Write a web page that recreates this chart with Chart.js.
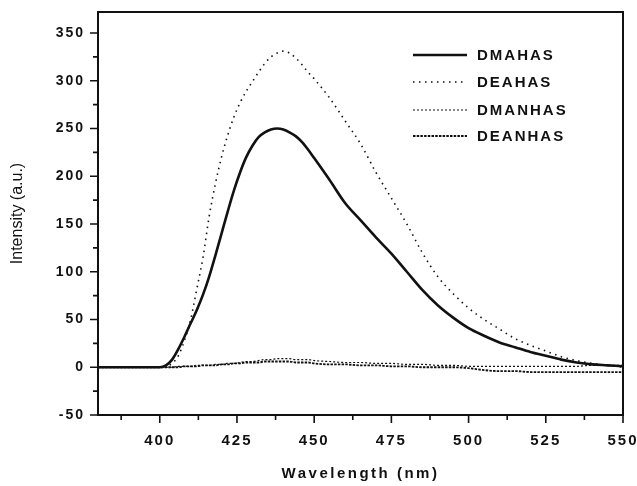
<!DOCTYPE html>
<html>
<head>
<meta charset="utf-8">
<script src="https://cdn.jsdelivr.net/npm/chart.js@4.4.0/dist/chart.umd.min.js"></script>
<style>
  html, body { margin: 0; padding: 0; background: #fff; }
  #wrap { width: 637px; height: 486px; }
</style>
</head>
<body>
<div id="wrap"><canvas id="chart"></canvas></div>
<script>
// wavelength grid (nm) shared by all four spectra
const wavelength = [380, 390, 398, 400, 402, 404, 406, 408, 410, 412, 414, 416, 418, 420, 422, 424, 426, 428, 430, 432, 434, 436, 438, 440, 442, 444, 446, 448, 450, 455, 460, 465, 470, 475, 480, 485, 490, 495, 500, 505, 510, 515, 520, 525, 530, 535, 540, 545, 550];

const dmahas  = [0, 0, 0, 0, 2, 8, 19, 32, 46, 60, 76, 95, 117, 140, 163, 185, 204, 220, 232, 241, 246, 249, 250, 249, 246, 242, 236, 228, 219, 196, 172, 154, 136, 119, 100, 81, 65, 52, 41, 33, 26, 21, 16, 12, 8, 5, 3, 2, 1];
const deahas  = [0, 0, 0, 0, 1, 4, 12, 28, 50, 82, 115, 158, 192, 220, 243, 262, 277, 289, 299, 309, 318, 325, 329, 331, 329, 324, 317, 309, 302, 282, 258, 234, 204, 177, 150, 120, 95, 77, 62, 50, 40, 30, 23, 17, 11, 7, 4, 2, 0];
const dmanhas = [0, 0, 0, 0, 0, 0, 1, 1, 1, 2, 2, 2, 3, 3, 4, 4, 5, 6, 6, 7, 8, 8, 9, 9, 9, 8, 8, 8, 7, 6, 5, 5, 4, 4, 3, 3, 2, 2, 1, 1, 1, 1, 1, 1, 1, 1, 2, 2, 2];
const deanhas = [0, 0, 0, 0, 0, 0, 0, 1, 1, 1, 2, 2, 2, 3, 3, 4, 4, 5, 5, 5, 6, 6, 6, 6, 6, 5, 5, 5, 4, 3, 3, 2, 2, 1, 1, 0, 0, 0, -1, -3, -4, -4, -5, -5, -5, -5, -5, -5, -5];

const seriesNames = ["DMAHAS", "DEAHAS", "DMANHAS", "DEANHAS"];

const xTicks = [400, 425, 450, 475, 500, 525, 550];
const xMinor = [387.5, 412.5, 437.5, 462.5, 487.5, 512.5, 537.5];
const yTicks = [-50, 0, 50, 100, 150, 200, 250, 300, 350];
const yMinor = [-25, 25, 75, 125, 175, 225, 275, 325];

const ink = "#111";
const fontFamily = "'Liberation Sans', Arial, sans-serif";

function points(values) {
    return wavelength.map((w, i) => ({ x: w, y: values[i] }));
}

const styles = [
    { width: 2.6, dash: [] },
    { width: 1.6, dash: [1.5, 4.5] },
    { width: 1.2, dash: [2, 2] },
    { width: 1.8, dash: [2.5, 1.2] }
];

const allSeries = [dmahas, deahas, dmanhas, deanhas];

// ticks, frame, titles and legend drawn by hand to match the scanned look
const decorPlugin = {
    id: "decor",
    beforeDraw(chart) {
        chart.ctx.letterSpacing = "2px";
    },
    afterDraw(chart) {
        const ctx = chart.ctx;
        const a = chart.chartArea;
        const xs = chart.scales.x;
        const ys = chart.scales.y;
        ctx.save();
        ctx.strokeStyle = ink;
        ctx.setLineDash([]);

        // frame
        ctx.lineWidth = 2;
        ctx.strokeRect(a.left, a.top, a.right - a.left, a.bottom - a.top);

        // tick marks
        ctx.lineWidth = 1.6;
        ctx.beginPath();
        xTicks.forEach(v => {
            const px = xs.getPixelForValue(v);
            ctx.moveTo(px, a.bottom); ctx.lineTo(px, a.bottom + 8);
        });
        xMinor.forEach(v => {
            const px = xs.getPixelForValue(v);
            ctx.moveTo(px, a.bottom); ctx.lineTo(px, a.bottom + 5);
        });
        yTicks.forEach(v => {
            const py = ys.getPixelForValue(v);
            ctx.moveTo(a.left - 8, py); ctx.lineTo(a.left, py);
        });
        yMinor.forEach(v => {
            const py = ys.getPixelForValue(v);
            ctx.moveTo(a.left - 5, py); ctx.lineTo(a.left, py);
        });
        ctx.stroke();

        // axis titles
        ctx.fillStyle = ink;
        ctx.letterSpacing = "2.5px";
        ctx.font = "bold 15px " + fontFamily;
        ctx.textAlign = "center";
        ctx.textBaseline = "middle";
        ctx.fillText("Wavelength (nm)", (a.left + a.right) / 2, 474);

        ctx.letterSpacing = "0px";
        ctx.font = "16px " + fontFamily;
        ctx.save();
        ctx.translate(18, (a.top + a.bottom) / 2);
        ctx.rotate(-Math.PI / 2);
        ctx.fillText("Intensity (a.u.)", 0, 0);
        ctx.restore();

        // legend
        const rows = [55, 82, 110, 136];
        ctx.font = "bold 15px " + fontFamily;
        ctx.letterSpacing = "2px";
        ctx.textAlign = "left";
        chart.data.datasets.forEach((ds, i) => {
            ctx.beginPath();
            ctx.lineWidth = ds.borderWidth;
            ctx.setLineDash(ds.borderDash);
            ctx.moveTo(413, rows[i]);
            ctx.lineTo(467, rows[i]);
            ctx.stroke();
            ctx.setLineDash([]);
            ctx.fillText(ds.label, 477, rows[i] + 1);
        });
        ctx.restore();
    }
};

new Chart(document.getElementById("chart"), {
    type: "line",
    data: {
        datasets: allSeries.map((vals, i) => ({
            label: seriesNames[i],
            data: points(vals),
            borderColor: ink,
            borderWidth: styles[i].width,
            borderDash: styles[i].dash,
            pointRadius: 0,
            cubicInterpolationMode: "monotone",
            fill: false
        }))
    },
    options: {
        responsive: true,
        maintainAspectRatio: false,
        animation: false,
        layout: { padding: { top: 12, right: 14, left: 0, bottom: 0 } },
        plugins: {
            legend: { display: false },
            tooltip: { enabled: false }
        },
        scales: {
            x: {
                type: "linear",
                min: 380,
                max: 550,
                grid: { display: false, drawTicks: false },
                border: { display: false },
                afterBuildTicks: scale => { scale.ticks = xTicks.map(v => ({ value: v })); },
                afterFit: scale => {
                    scale.height = 71;
                    scale.paddingLeft = 0;
                    scale.paddingRight = 0;
                },
                ticks: {
                    color: ink,
                    padding: 17,
                    maxRotation: 0,
                    font: { family: fontFamily, size: 15, weight: "bold" }
                }
            },
            y: {
                min: -50,
                max: 372,
                grid: { display: false, drawTicks: false },
                border: { display: false },
                afterBuildTicks: scale => { scale.ticks = yTicks.map(v => ({ value: v })); },
                afterFit: scale => {
                    scale.width = 98;
                    scale.paddingTop = 0;
                    scale.paddingBottom = 0;
                },
                ticks: {
                    color: ink,
                    padding: 13,
                    font: { family: fontFamily, size: 14, weight: "bold" }
                }
            }
        }
    },
    plugins: [decorPlugin]
});
</script>
</body>
</html>
